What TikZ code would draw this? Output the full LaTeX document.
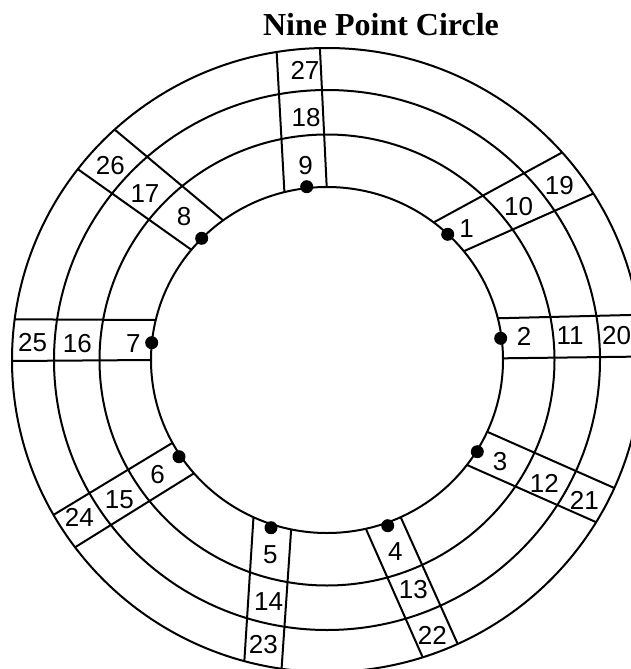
\documentclass[tikz,border=0pt]{standalone}
\usepackage{fontspec}
\setmainfont{Liberation Serif}
\setsansfont{Liberation Sans}
\usetikzlibrary{calc}

\begin{document}
\begin{tikzpicture}[x=1pt, y=-1pt, line width=2pt,
    num/.style={font=\sffamily\fontsize{26}{26}\selectfont, inner sep=0pt},
    dot/.style={circle, fill=black, inner sep=0pt, minimum size=13pt}]
  \useasboundingbox (0,0) rectangle (631,669);
  \clip (0,0) rectangle (631,669);
  \coordinate (c) at (327,360);
  % strip edges, inner end / outer end
  \begin{scope}
    \clip (c) ellipse [x radius=315pt, y radius=312pt];
    \foreach \ax/\ay/\bx/\by in {
        465/250.7/594/193.3, 435/221.7/561.7/152.7,
        496.7/318.3/630/315, 504/358.3/630/356.7,
        489.3/432.7/615/488.3, 469.3/466/597.3/522.7,
        366.7/530.7/422.7/657.3, 402.7/521.7/457.7/644,
        253.3/520/244.3/661.7, 291/531.7/281.7/666.7,
        171.7/443.3/53.3/515, 194/473.3/76/546.7,
        155/320/13.3/319.3, 151.7/360/11.7/361,
        222.7/220/116/130.7, 191.7/250/79/170,
        284.3/190/276.7/53.3, 326.7/186.7/320/50}
      \draw ($(\ax,\ay)!-0.3!(\bx,\by)$) -- ($(\ax,\ay)!1.3!(\bx,\by)$);
  \end{scope}
  \fill[white] (c) ellipse [x radius=176pt, y radius=173pt];
  % rings
  \foreach \rx/\ry in {176pt/173pt, 227.5pt/225.5pt, 273pt/270pt, 315pt/312pt}
    \draw (c) ellipse [x radius=\rx, y radius=\ry];
  % the nine points
  \foreach \n/\x/\y in {1/447.7/234.3, 2/500.7/338.3, 3/477.3/451.7,
      4/387.7/525.7, 5/271/527.7, 6/179/456.7,
      7/151.7/342.7, 8/201.7/238.3, 9/306.7/186.7}
    \node[dot] (p\n) at (\x,\y) {};
  % numbers
  \foreach \n/\x/\y in {1/466.7/228.3, 10/518.7/207, 19/559.3/185.7,
      2/524/336, 11/570/336, 20/616.7/336,
      3/500/461.7, 12/544.3/483, 21/584.3/500.7,
      4/395.3/551.7, 13/413.3/590, 22/432.3/635.7,
      5/270.3/555, 14/268.7/602, 23/263.3/644.3,
      6/157.7/475, 15/119.3/500, 24/79.3/517.7,
      7/133.3/343.3, 16/77.3/344, 25/32.7/343,
      8/184/216.7, 17/145/194, 26/110.3/165.7,
      9/305.7/165.3, 18/306/117.7, 27/305/70.3}
    \node[num] (n\n) at (\x,\y) {\n};
  \node[font=\bfseries\fontsize{32}{32}\selectfont, anchor=base] (title)
    at (381,36) {Nine Point Circle};
\end{tikzpicture}
\end{document}
